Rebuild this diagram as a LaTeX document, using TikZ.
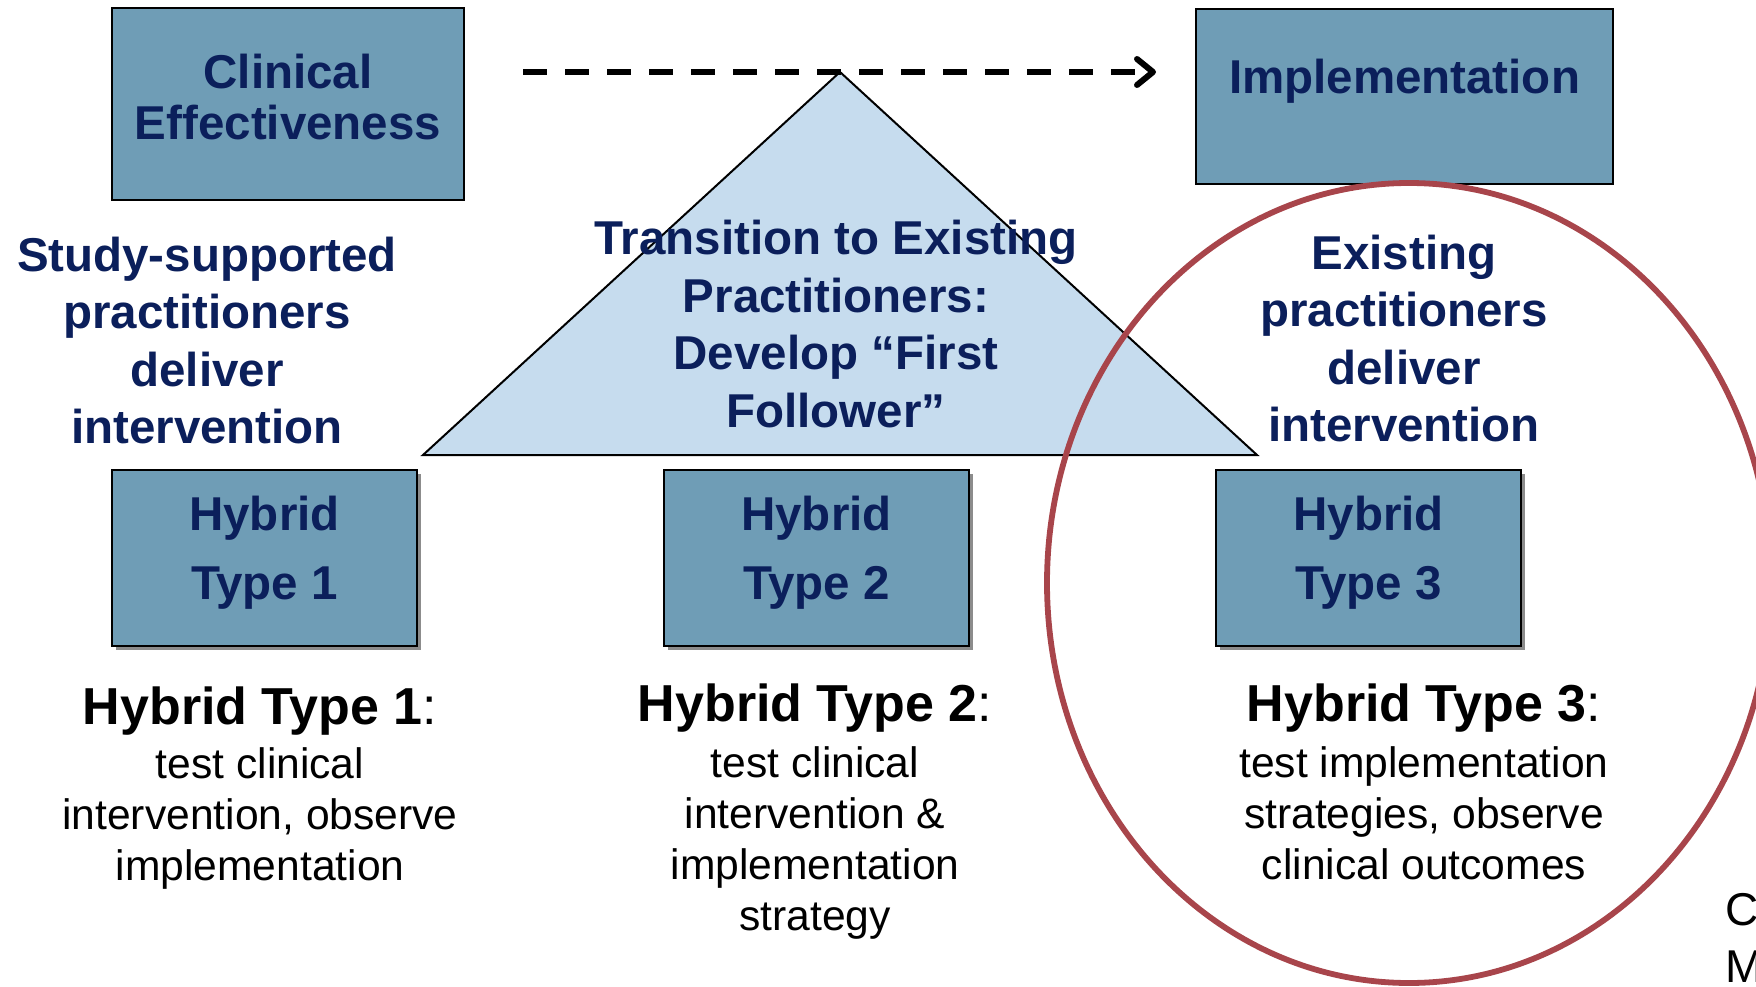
\documentclass[tikz,border=0pt]{standalone}
\usepackage{fontspec}
\setmainfont{Liberation Sans}
\usetikzlibrary{arrows.meta,shadows}
\definecolor{boxfill}{HTML}{6F9DB6}
\definecolor{navy}{HTML}{0B1F5B}
\definecolor{trifill}{HTML}{C6DCEE}
\definecolor{ring}{HTML}{A8454B}
\tikzset{
  bluebox/.style={draw=black, line width=2pt, fill=boxfill, text=navy, align=center, inner sep=0pt,
    font=\bfseries\fontsize{47.5}{51}\selectfont},
  hybridbox/.style={bluebox, minimum width=305pt, minimum height=176pt,
    font=\bfseries\fontsize{47.5}{69}\selectfont,
    drop shadow={shadow xshift=4pt, shadow yshift=-4pt, fill=black!45, opacity=1}},
  navytext/.style={text=navy, align=center, inner sep=0pt, font=\bfseries\fontsize{47.5}{57.5}\selectfont},
  titletext/.style={text=black, align=center, inner sep=0pt, font=\fontsize{52}{60}\selectfont},
  desctext/.style={text=black, align=center, inner sep=0pt, font=\fontsize{42.6}{51}\selectfont},
  tri/.style={draw=black, line width=2pt, fill=trifill, line join=miter},
  dasharrow/.style={line width=6pt, dash pattern=on 24pt off 18pt,
    -{Straight Barb[length=16pt, width=26pt, line width=6pt, round]}},
  ringline/.style={draw=ring, line width=5.8pt}
}
\begin{document}
\begin{tikzpicture}[x=1pt,y=-1pt]
\useasboundingbox (0,0) rectangle (1756,987);
% top boxes
\node[bluebox, minimum width=352pt, minimum height=192pt] (ce) at (288,104.5) {};
\node[text=navy, align=center, inner sep=0pt, font=\bfseries\fontsize{47.5}{51}\selectfont] (cetext) at ([yshift=7pt]ce.center) {Clinical\\Effectiveness};
\node[bluebox, minimum width=417pt, minimum height=175pt] (impl) at (1404.5,96.5) {};
\node[navytext] (impltext) at ([yshift=15pt]impl.center) {Implementation};
% triangle
\coordinate (apex) at (840,72);
\coordinate (bl) at (423,455);
\coordinate (br) at (1257,455);
\draw[tri] (apex) -- (bl) -- (br) -- cycle;
% dashed arrow
\coordinate (as) at (523,72);
\coordinate (ae) at (1156,72);
\draw[dasharrow] (as) -- (ae);
% texts above boxes
\node[navytext] (ssp) at (207,340.5) {Study-supported\\practitioners\\deliver\\intervention};
\node[navytext] (trans) at (836,324) {Transition to Existing\\Practitioners:\\Develop “First\\Follower”};
\node[navytext] (exist) at (1404,338.5) {Existing\\practitioners\\deliver\\intervention};
% hybrid boxes
\node[hybridbox] (h1) at (264.5,558) {};
\node[hybridbox] (h2) at (816.5,558) {};
\node[hybridbox] (h3) at (1368.5,558) {};
\node[text=navy, align=center, inner sep=0pt, font=\bfseries\fontsize{47.5}{69}\selectfont] (h1text) at ([yshift=5pt]h1.center) {Hybrid\\Type 1};
\node[text=navy, align=center, inner sep=0pt, font=\bfseries\fontsize{47.5}{69}\selectfont] (h2text) at ([yshift=5pt]h2.center) {Hybrid\\Type 2};
\node[text=navy, align=center, inner sep=0pt, font=\bfseries\fontsize{47.5}{69}\selectfont] (h3text) at ([yshift=5pt]h3.center) {Hybrid\\Type 3};
% descriptions
\node[titletext] (t1) at (260,711) {\textbf{Hybrid Type 1}:};
\node[desctext] (d1) at (260,818) {test clinical\\intervention, observe\\implementation};
\node[titletext] (t2) at (815,708) {\textbf{Hybrid Type 2}:};
\node[desctext] (d2) at (815,843) {test clinical\\intervention \&\\implementation\\strategy};
\node[titletext] (t3) at (1424,708) {\textbf{Hybrid Type 3}:};
\node[desctext] (d3) at (1424,813) {test implementation\\strategies, observe\\clinical outcomes};
% ring
\draw[ringline] (1409,583) ellipse [x radius=362, y radius=400];
% cut-off text at right edge
\node[text=black, align=left, inner sep=0pt, anchor=west, font=\fontsize{46}{57}\selectfont] (cm) at (1725,938) {C\\M};
\end{tikzpicture}
\end{document}
